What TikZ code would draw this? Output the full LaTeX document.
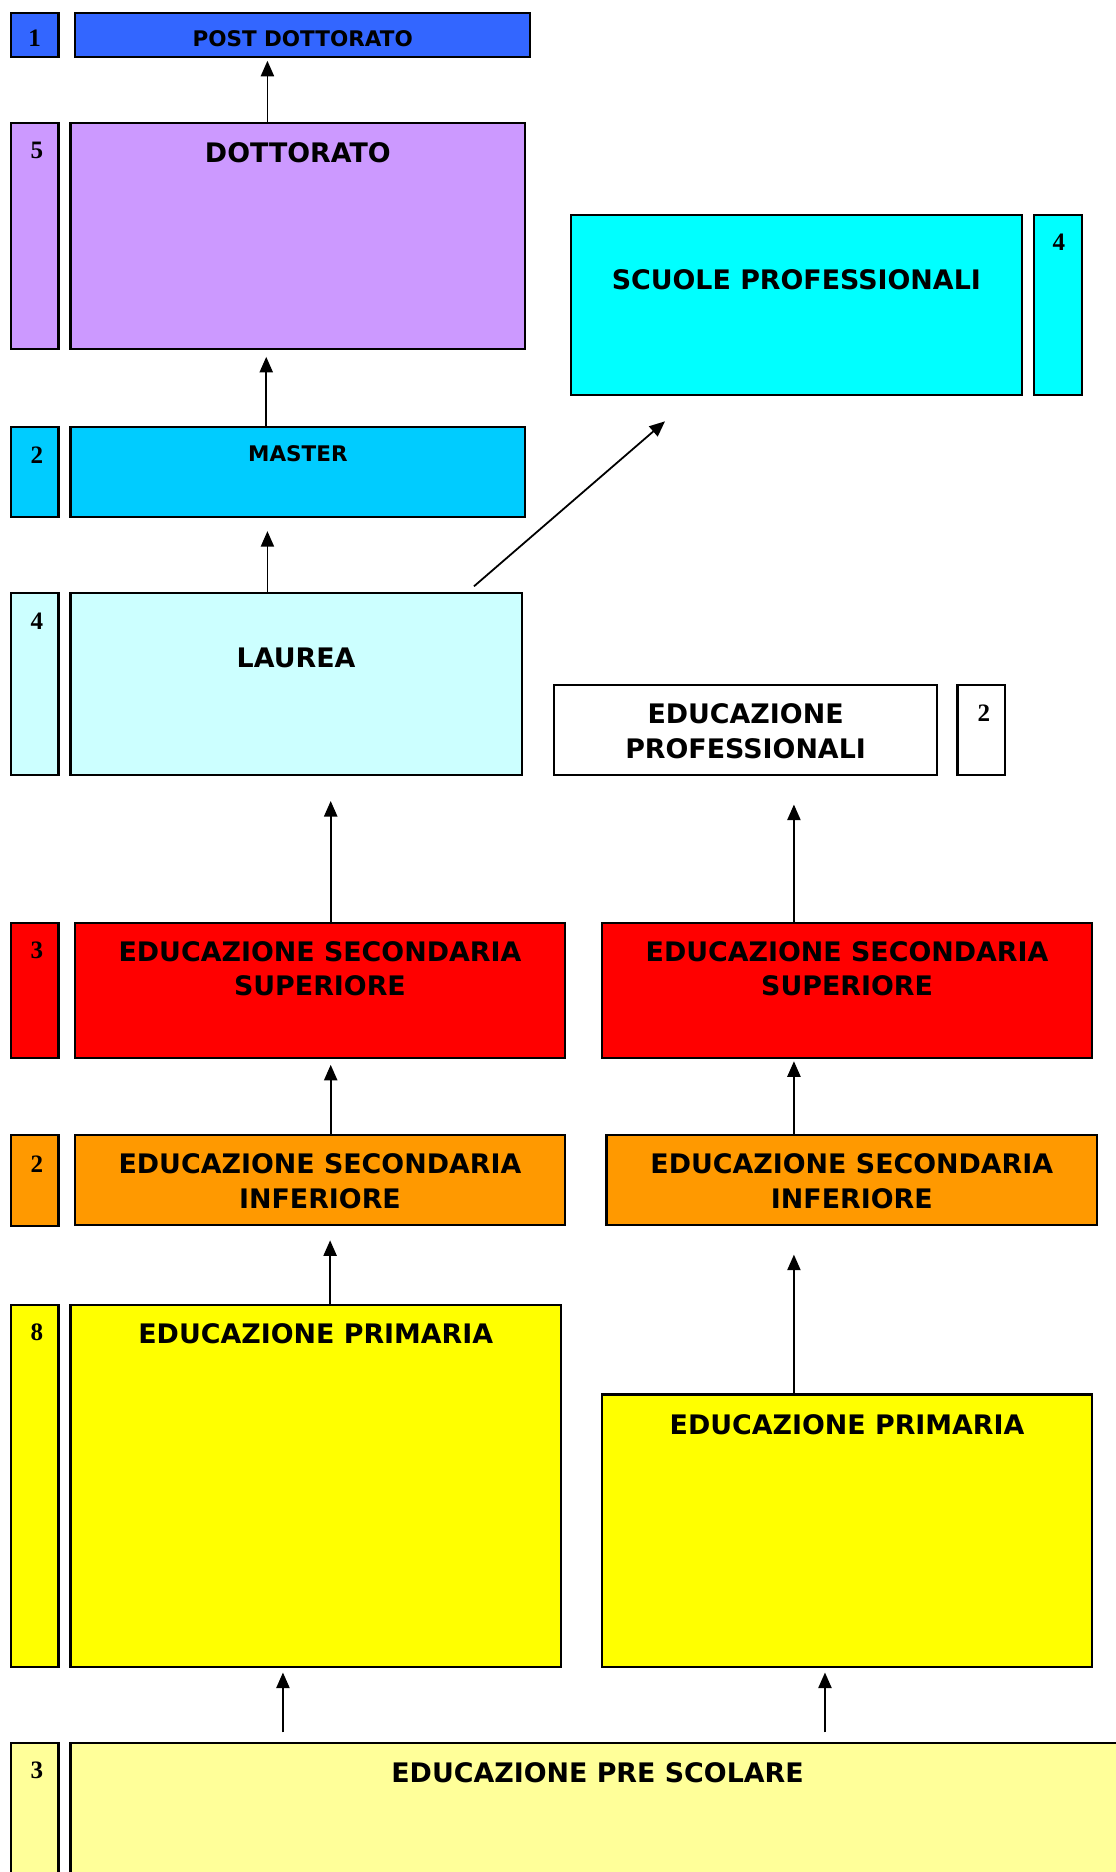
\documentclass[tikz,border=0pt]{standalone}
\usepackage{fontspec}
\setmainfont{DejaVu Sans}
\newfontfamily\numfont{Liberation Serif}
\usetikzlibrary{arrows.meta, calc, fit}

\definecolor{postblue}{HTML}{3366FF}
\definecolor{lilla}{HTML}{CC99FF}
\definecolor{ciano}{HTML}{00FFFF}
\definecolor{celeste}{HTML}{00CCFF}
\definecolor{azzurrino}{HTML}{CCFFFF}
\definecolor{rosso}{HTML}{FF0000}
\definecolor{arancio}{HTML}{FF9900}
\definecolor{giallo}{HTML}{FFFF00}
\definecolor{giallino}{HTML}{FFFF99}

\begin{document}
\begin{tikzpicture}[x=0.5pt, y=-0.5pt, >={Triangle[length=6.5pt,width=5.5pt]}, line width=0.9pt,
  box/.style={draw, inner sep=0pt},
  boxtitle/.style={font=\bfseries\fontsize{11.25}{14.5}\selectfont, align=center},
  subtitle/.style={font=\bfseries\fontsize{9}{11}\selectfont},
  num/.style={font=\numfont\bfseries\fontsize{10.5}{12}\selectfont},
  arr/.style={->, line width=0.75pt}]
  \useasboundingbox (0,0) rectangle (934,1568);
  % colonna sinistra: percorso universitario
  \node[box, fill=postblue, fit={(9,11) (49,48)}] (n-post) {};
  \node[box, fill=postblue, fit={(63,11) (444,48)}] (post) {};
  \node[subtitle] (t-post) at (253.5,32) {POST DOTTORATO};
  \node[num] (d-post) at (29,32) {1};
  \node[box, fill=lilla, fit={(9,103) (49,292)}] (n-dott) {};
  \node[box, fill=lilla, fit={(59,103) (440,292)}] (dott) {};
  \node[boxtitle] (t-dott) at (249.5,128) {DOTTORATO};
  \node[num] (d-dott) at (31,126) {5};
  \node[box, fill=celeste, fit={(9,358) (49,433)}] (n-master) {};
  \node[box, fill=celeste, fit={(59,358) (440,433)}] (master) {};
  \node[subtitle] (t-master) at (249.5,380) {MASTER};
  \node[num] (d-master) at (31,381) {2};
  \node[box, fill=azzurrino, fit={(9,497) (49,649)}] (n-laurea) {};
  \node[box, fill=azzurrino, fit={(59,497) (437,649)}] (laurea) {};
  \node[boxtitle] (t-laurea) at (248,551) {LAUREA};
  \node[num] (d-laurea) at (31,520) {4};
  % colonna destra: percorso professionale
  \node[box, fill=ciano, fit={(478,180) (856,331)}] (scuole) {};
  \node[box, fill=ciano, fit={(866,180) (906,331)}] (n-scuole) {};
  \node[boxtitle] (t-scuole) at (667,234) {SCUOLE PROFESSIONALI};
  \node[num] (d-scuole) at (887,203) {4};
  \node[box, fill=white, fit={(464,574) (785,649)}] (prof) {};
  \node[box, fill=white, fit={(802,574) (842,649)}] (n-prof) {};
  \node[boxtitle] (t-prof) at (624.5,612.5) {EDUCAZIONE\\PROFESSIONALI};
  \node[num] (d-prof) at (824,597) {2};
  % scuola secondaria
  \node[box, fill=rosso, fit={(9,773) (49,886)}] (n-sup) {};
  \node[box, fill=rosso, fit={(63,773) (473,886)}] (supl) {};
  \node[box, fill=rosso, fit={(504,773) (915,886)}] (supr) {};
  \node[boxtitle] (t-supl) at (268,811.5) {EDUCAZIONE SECONDARIA\\SUPERIORE};
  \node[boxtitle] (t-supr) at (709.5,811.5) {EDUCAZIONE SECONDARIA\\SUPERIORE};
  \node[num] (d-sup) at (31,796) {3};
  \node[box, fill=arancio, fit={(9,951) (49,1027)}] (n-inf) {};
  \node[box, fill=arancio, fit={(63,951) (473,1026)}] (infl) {};
  \node[box, fill=arancio, fit={(508,951) (919,1026)}] (infr) {};
  \node[boxtitle] (t-infl) at (268,989.5) {EDUCAZIONE SECONDARIA\\INFERIORE};
  \node[boxtitle] (t-infr) at (713.5,989.5) {EDUCAZIONE SECONDARIA\\INFERIORE};
  \node[num] (d-inf) at (31,975) {2};
  % primaria e pre scolare
  \node[box, fill=giallo, fit={(9,1093) (49,1396)}] (n-prim) {};
  \node[box, fill=giallo, fit={(59,1093) (470,1396)}] (priml) {};
  \node[box, fill=giallo, fit={(504,1168) (915,1396)}] (primr) {};
  \node[boxtitle] (t-priml) at (264.5,1117) {EDUCAZIONE PRIMARIA};
  \node[boxtitle] (t-primr) at (709.5,1193) {EDUCAZIONE PRIMARIA};
  \node[num] (d-prim) at (31,1116) {8};
  \node[box, fill=giallino, fit={(9,1460) (49,1600)}] (n-pre) {};
  \node[box, fill=giallino, fit={(59,1460) (960,1600)}] (pre) {};
  \node[boxtitle] (t-pre) at (500.5,1485) {EDUCAZIONE PRE SCOLARE};
  \node[num] (d-pre) at (31,1483) {3};
  % frecce
  \draw[arr, shorten >=1pt] (dott.north -| 224,0) -- (post.south -| 224,0);
  \draw[arr, shorten >=3pt] (master.north -| 223,0) -- (dott.south -| 223,0);
  \draw[arr, shorten >=5.5pt] (laurea.north -| 224,0) -- (master.south -| 224,0);
  \draw[arr] ($(laurea.north -| 397,0)+(0,-5)$) -- ($(scuole.south -| 557,0)+(0,21)$);
  \draw[arr, shorten >=10.5pt] (supl.north -| 277,0) -- (laurea.south -| 277,0);
  \draw[arr, shorten >=12pt] (supr.north -| 665,0) -- (prof.south -| 665,0);
  \draw[arr, shorten >=2.5pt] (infl.north -| 277,0) -- (supl.south -| 277,0);
  \draw[arr, shorten >=1pt] (infr.north -| 665,0) -- (supr.south -| 665,0);
  \draw[arr, shorten >=6pt] (priml.north -| 276.5,0) -- (infl.south -| 276.5,0);
  \draw[arr, shorten >=12pt] (primr.north -| 665,0) -- (infr.south -| 665,0);
  \draw[arr, shorten <=4pt, shorten >=2pt] (pre.north -| 237,0) -- (priml.south -| 237,0);
  \draw[arr, shorten <=4pt, shorten >=2pt] (pre.north -| 691,0) -- (primr.south -| 691,0);
\end{tikzpicture}
\end{document}
